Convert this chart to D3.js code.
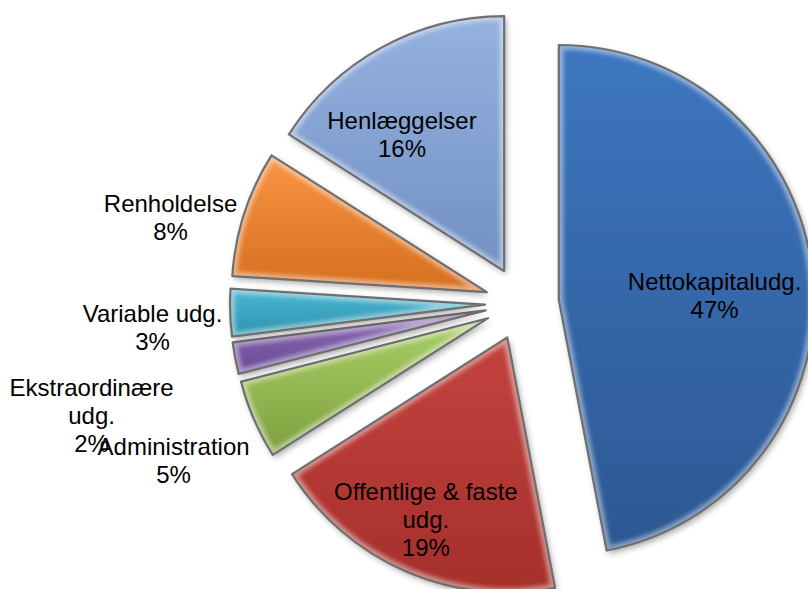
<!doctype html>
<html lang="da">
<head>
  <meta charset="utf-8">
  <title>Udgifter fordelt</title>
  <script src="https://d3js.org/d3.v7.min.js"></script>
  <style>
    body { margin: 0; background: #fff; }
    svg { display: block; }
    .lbl { font-family: "Liberation Sans", Arial, sans-serif; font-size: 24px; fill: #000; }
  </style>
</head>
<body>
<div id="chart"></div>
<script>
// data (clockwise from 12 o'clock)
var categories = ["Nettokapitaludg.", "Offentlige & faste udg.", "Administration",
                  "Ekstraordinære udg.", "Variable udg.", "Renholdelse", "Henlæggelser"];
var shares = [47, 19, 5, 2, 3, 8, 16];

// look of each slice: top / bottom of the gradient
var topColors = ["#3d76c0", "#c4433f", "#a9cf66", "#8d6cb7", "#4cb8d4", "#f89543", "#95b1df"];
var bottomColors = ["#2c5893", "#a52f2b", "#7ea03e", "#6a4994", "#2c91ac", "#d66e1f", "#7190c3"];

// where Excel put the labels: distance (x radius) from the slice tip, turn (deg) off mid-angle
var labelDist = [0.611, 0.782, 1.354, 1.599, 1.307, 1.274, 0.669];
var labelTurn = [3.7, 0.7, -1.0, -4.1, -2.2, -4.8, -8.0];

var width = 808,
    height = 589,
    cx = 522,
    cy = 303.5,
    radius = 255,
    explode = 37,
    lineHeight = 28,
    wrapWidth = 200;

var svg = d3.select("#chart").append("svg")
    .attr("width", width)
    .attr("height", height);

var defs = svg.append("defs");

var shadow = defs.append("filter")
    .attr("id", "shadow")
    .attr("x", "-20%").attr("y", "-20%")
    .attr("width", "140%").attr("height", "140%");
shadow.append("feDropShadow")
    .attr("dx", 2).attr("dy", 3)
    .attr("stdDeviation", 3)
    .attr("flood-color", "#000")
    .attr("flood-opacity", 0.35);

var soft = defs.append("filter").attr("id", "soft");
soft.append("feGaussianBlur").attr("stdDeviation", 2.2);

var pie = d3.pie().sort(null).value(function(d) { return d; });
var arcs = pie(shares);

var arc = d3.arc().innerRadius(0).outerRadius(radius);

arcs.forEach(function(a, i) {
  var g = defs.append("linearGradient")
      .attr("id", "grad" + i)
      .attr("x1", 0).attr("y1", 0).attr("x2", 0).attr("y2", 1);
  g.append("stop").attr("offset", "0%").attr("stop-color", topColors[i]);
  g.append("stop").attr("offset", "100%").attr("stop-color", bottomColors[i]);

  defs.append("clipPath").attr("id", "clip" + i)
    .append("path").attr("d", arc(a));
});

function midAngle(a) { return (a.startAngle + a.endAngle) / 2; }
function tip(a) {
  var m = midAngle(a);
  return [cx + Math.sin(m) * explode, cy - Math.cos(m) * explode];
}

var slices = svg.append("g").selectAll("g")
    .data(arcs)
    .enter().append("g")
    .attr("transform", function(d) { var p = tip(d); return "translate(" + p[0] + "," + p[1] + ")"; });

slices.append("path")
    .attr("d", arc)
    .attr("fill", function(d, i) { return "url(#grad" + i + ")"; })
    .attr("filter", "url(#shadow)");

// soft bevel: light inner rim
slices.append("g")
    .attr("clip-path", function(d, i) { return "url(#clip" + i + ")"; })
  .append("path")
    .attr("d", arc)
    .attr("fill", "none")
    .attr("stroke", "#fff")
    .attr("stroke-opacity", 0.45)
    .attr("stroke-width", 9)
    .attr("filter", "url(#soft)");

slices.append("path")
    .attr("d", arc)
    .attr("fill", "none")
    .attr("stroke", "#6f6f6f")
    .attr("stroke-width", 2.2)
    .attr("stroke-linejoin", "round");

// labels
var labels = svg.append("g").selectAll("text")
    .data(arcs)
    .enter().append("text")
    .attr("class", "lbl")
    .attr("text-anchor", "middle");

labels.each(function(d, i) {
  var t = d3.select(this);
  // word-wrap the name like Excel does
  var words = categories[i].split(" "), lines = [], cur = "";
  var probe = svg.append("text").attr("class", "lbl");
  words.forEach(function(w) {
    var test = cur ? cur + " " + w : w;
    probe.text(test);
    if (cur && probe.node().getComputedTextLength() > wrapWidth) {
      lines.push(cur);
      cur = w;
    } else {
      cur = test;
    }
  });
  lines.push(cur);
  probe.remove();
  lines.push(d3.format(".0%")(shares[i] / d3.sum(shares)));

  var p = tip(d);
  var ang = midAngle(d) + labelTurn[i] * Math.PI / 180;
  var x = p[0] + Math.sin(ang) * labelDist[i] * radius;
  var y = p[1] - Math.cos(ang) * labelDist[i] * radius;
  var first = y + 8.5 - (lines.length - 1) * lineHeight / 2;

  lines.forEach(function(s, k) {
    t.append("tspan")
      .attr("x", x)
      .attr("y", first + k * lineHeight)
      .text(s);
  });
});
</script>
</body>
</html>
